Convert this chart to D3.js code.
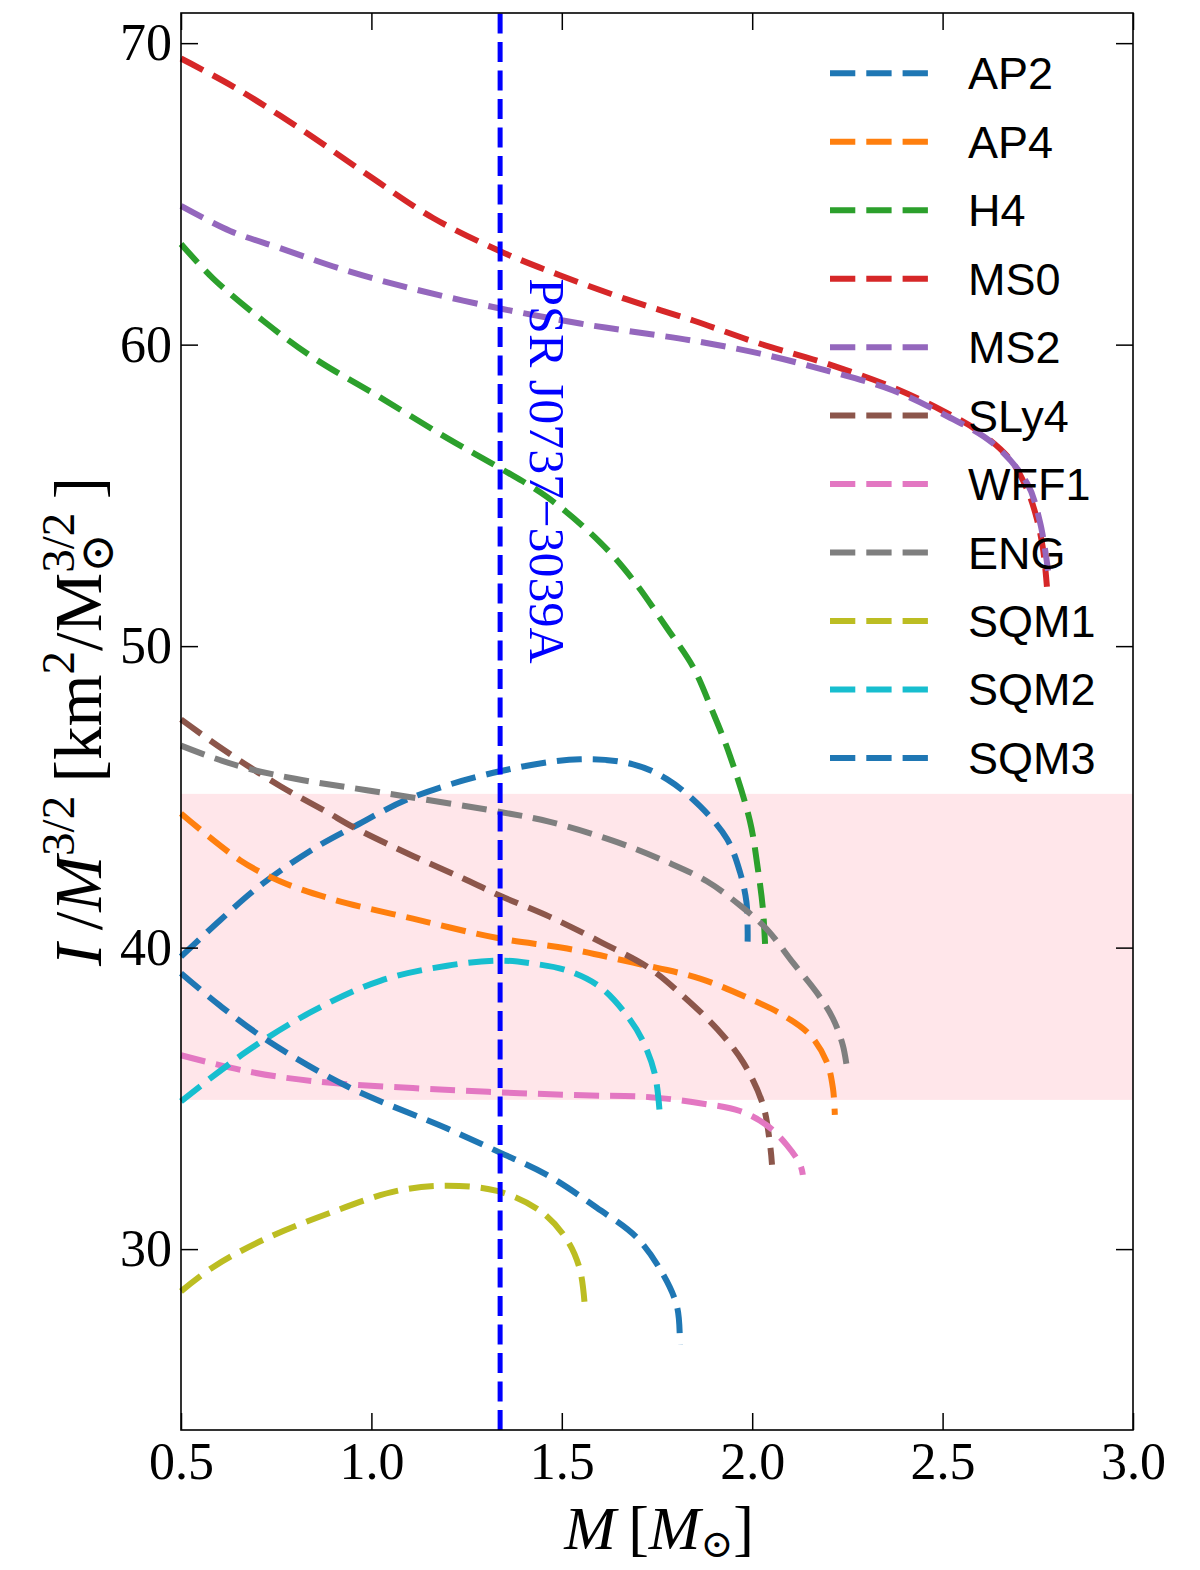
<!DOCTYPE html>
<html>
<head>
<meta charset="UTF-8">
<script src="https://d3js.org/d3.v7.min.js"></script>
<style>
  body { margin: 0; background: #fff; }
  svg { display: block; }
  .tick text { font-family: "Liberation Serif", "DejaVu Serif", serif; font-size: 52px; fill: #000; }
  .legend-label { font-family: "Liberation Sans", "DejaVu Sans", sans-serif; font-size: 45px; fill: #000; }
  .math { font-family: "Liberation Serif", "DejaVu Serif", serif; fill: #000; }
</style>
</head>
<body>
<div id="chart"></div>
<script>
// EOS names and colours (matplotlib tab10 order)
const eosNames  = ["AP2", "AP4", "H4", "MS0", "MS2", "SLy4", "WFF1", "ENG", "SQM1", "SQM2", "SQM3"];
const eosColors = ["#1f77b4", "#ff7f0e", "#2ca02c", "#d62728", "#9467bd", "#8c564b",
                   "#e377c2", "#7f7f7f", "#bcbd22", "#17becf", "#1f77b4"];

// [M (Msun), I/M^{3/2}]
const AP2  = [[0.5,39.7],[0.602,40.9],[0.707,42.05],[0.847,43.27],[0.952,44.0],[1.109,44.99],
              [1.338,45.85],[1.548,46.25],[1.687,46.08],[1.776,45.59],[1.863,44.69],[1.934,43.6],[1.968,42.5],
              [1.985,41.5],[1.988,40.6],[1.988,40.2]];
const AP4  = [[0.5,44.45],[0.655,42.9],[0.76,42.2],[0.899,41.6],[1.109,40.96],[1.338,40.3],[1.514,39.97],
              [1.687,39.5],[1.863,38.97],[1.994,38.3],[2.081,37.76],[2.152,37.1],[2.196,36.2],[2.212,35.34],[2.217,34.45]];
const H4   = [[0.5,63.34],[0.584,62.2],[0.715,60.8],[0.847,59.57],[1.023,58.25],[1.199,56.9],[1.338,55.9],
              [1.461,54.95],[1.6,53.45],[1.687,52.2],[1.776,50.6],[1.845,49.3],[1.897,47.8],[1.942,46.35],
              [1.994,44.2],[2.015,42.6],[2.028,41.3],[2.034,40.07]];
const MS0  = [[0.5,69.49],[0.637,68.56],[0.812,67.17],[0.988,65.65],[1.162,64.2],[1.338,63.1],[1.495,62.3],
              [1.671,61.5],[1.845,60.8],[2.021,60.03],[2.196,59.37],[2.37,58.58],[2.501,57.8],[2.59,57.16],
              [2.677,56.2],[2.722,55.2],[2.748,54.2],[2.764,53.2],[2.774,51.97]];
const MS2  = [[0.5,64.6],[0.629,63.77],[0.76,63.2],[0.936,62.45],[1.109,61.85],[1.338,61.2],[1.548,60.7],
              [1.671,60.46],[1.845,60.13],[2.021,59.7],[2.196,59.14],[2.37,58.48],[2.501,57.7],[2.632,56.73],
              [2.722,55.4],[2.756,54.1],[2.777,52.5]];
const SLy4 = [[0.5,47.57],[0.61,46.58],[0.76,45.36],[0.883,44.5],[0.952,44.0],[1.109,43.04],[1.24,42.3],
              [1.338,41.72],[1.469,41.02],[1.6,40.2],[1.732,39.3],[1.818,38.4],[1.908,37.3],[1.976,36.2],
              [2.028,34.8],[2.047,33.45],[2.052,32.8]];
const WFF1 = [[0.5,36.43],[0.673,35.9],[0.847,35.57],[1.109,35.34],[1.338,35.2],[1.556,35.1],[1.732,35.04],
              [1.863,34.84],[1.968,34.58],[2.039,34.1],[2.091,33.45],[2.126,32.8],[2.133,32.46]];
const ENG  = [[0.5,46.7],[0.584,46.3],[0.673,45.95],[0.8,45.6],[0.988,45.22],[1.338,44.5],[1.469,44.17],
              [1.645,43.5],[1.776,42.84],[1.881,42.2],[1.968,41.4],[2.039,40.6],[2.107,39.5],[2.17,38.5],
              [2.212,37.65],[2.238,36.76],[2.249,36.0]];
const SQM1 = [[0.5,28.6],[0.584,29.4],[0.715,30.3],[0.891,31.2],[1.067,31.93],[1.199,32.1],[1.33,31.93],
              [1.443,31.27],[1.514,30.3],[1.548,29.3],[1.561,28.0]];
const SQM2 = [[0.5,34.9],[0.673,36.56],[0.847,37.9],[1.023,38.9],[1.199,39.4],[1.338,39.57],[1.424,39.47],
              [1.514,39.24],[1.6,38.7],[1.671,37.75],[1.713,36.9],[1.745,35.77],[1.758,34.35]];
const SQM3 = [[0.5,39.15],[0.6,38.1],[0.726,36.93],[0.936,35.4],[1.199,34.0],[1.338,33.2],[1.461,32.46],
              [1.592,31.37],[1.697,30.38],[1.766,29.16],[1.803,28.07],[1.81,26.84]];
const eosCurves = [AP2, AP4, H4, MS0, MS2, SLy4, WFF1, ENG, SQM1, SQM2, SQM3];

const xTicks = [0.5, 1.0, 1.5, 2.0, 2.5, 3.0];
const yTicks = [30, 40, 50, 60, 70];

const psrMass  = 1.338;
const psrLabel = "PSR J0737\u22123039A";
const bandRange = [34.95, 45.1];

const width = 1200, height = 1570;
const plotL = 181, plotR = 1133, plotT = 13, plotB = 1430;

const svg = d3.select("#chart").append("svg")
  .attr("width", width).attr("height", height);

const x = d3.scaleLinear().domain([0.5, 3.0]).range([plotL, plotR]);
const y = d3.scaleLinear().domain([24, 71]).range([plotB, plotT]);

// shaded band
svg.append("rect")
  .attr("x", plotL).attr("width", plotR - plotL)
  .attr("y", y(bandRange[1])).attr("height", y(bandRange[0]) - y(bandRange[1]))
  .attr("fill", "#ffe6ea");

// curves
const line = d3.line()
  .x(d => x(d[0])).y(d => y(d[1]))
  .curve(d3.curveCatmullRom.alpha(0.5));

eosCurves.forEach((c, i) => {
  svg.append("path")
    .datum(c)
    .attr("d", line)
    .attr("fill", "none")
    .attr("stroke", eosColors[i])
    .attr("stroke-width", 6)
    .attr("stroke-dasharray", "25,11");
});

// pulsar mass line (drawn bottom -> top like axvline)
svg.append("line")
  .attr("x1", x(psrMass)).attr("x2", x(psrMass))
  .attr("y1", plotB).attr("y2", plotT)
  .attr("stroke", "#0000ff")
  .attr("stroke-width", 5)
  .attr("stroke-dasharray", "20,8.5");

svg.append("text")
  .attr("class", "math")
  .attr("transform", `translate(${x(psrMass) + 30},${y(62.2)}) rotate(90)`)
  .attr("font-size", 50)
  .style("fill", "#0000ff")
  .text(psrLabel);

// axes with inward ticks
const tickLen = 17;
const xAxis = svg.append("g")
  .attr("transform", `translate(0,${plotB})`)
  .call(d3.axisBottom(x).tickValues(xTicks).tickFormat(d3.format(".1f"))
    .tickSizeInner(-tickLen).tickSizeOuter(0).tickPadding(12));
const yAxis = svg.append("g")
  .attr("transform", `translate(${plotL},0)`)
  .call(d3.axisLeft(y).tickValues(yTicks).tickFormat(d3.format("d"))
    .tickSizeInner(-tickLen).tickSizeOuter(0).tickPadding(9));
const xTop = svg.append("g")
  .attr("transform", `translate(0,${plotT})`)
  .call(d3.axisTop(x).tickValues(xTicks).tickFormat("")
    .tickSizeInner(-tickLen).tickSizeOuter(0));
const yRight = svg.append("g")
  .attr("transform", `translate(${plotR},0)`)
  .call(d3.axisRight(y).tickValues(yTicks).tickFormat("")
    .tickSizeInner(-tickLen).tickSizeOuter(0));
[xAxis, yAxis, xTop, yRight].forEach(g => {
  g.attr("font-family", null).attr("font-size", null);
  g.select(".domain").remove();
  g.selectAll(".tick line").attr("stroke", "#000").attr("stroke-width", 1.5);
});

svg.append("rect")
  .attr("x", plotL).attr("y", plotT)
  .attr("width", plotR - plotL).attr("height", plotB - plotT)
  .attr("fill", "none").attr("stroke", "#000").attr("stroke-width", 1.6);

// legend (no frame)
const legY0 = 73.3, legStep = 68.46;
eosNames.forEach((name, i) => {
  const yy = legY0 + i * legStep;
  svg.append("line")
    .attr("x1", 830).attr("x2", 928).attr("y1", yy).attr("y2", yy)
    .attr("stroke", eosColors[i]).attr("stroke-width", 6)
    .attr("stroke-dasharray", "25.3,11");
  svg.append("text")
    .attr("class", "legend-label")
    .attr("x", 968).attr("y", yy + 16)
    .text(name);
});

// axis labels
const fs = 62, ss = 43;
const xl = svg.append("text").attr("class", "math")
  .attr("x", (plotL + plotR) / 2 + 2).attr("y", 1549)
  .attr("text-anchor", "middle").attr("font-size", fs);
xl.append("tspan").attr("font-style", "italic").text("M");
xl.append("tspan").text("\u2009[");
xl.append("tspan").attr("font-style", "italic").text("M");
xl.append("tspan").attr("font-size", ss - 4).attr("dy", 8).text("\u2299");
xl.append("tspan").attr("dy", -8).text("]");

const yfs = 67, yss = 47;
const yl = svg.append("text").attr("class", "math")
  .attr("transform", `translate(101,${(plotT + plotB) / 2}) rotate(-90)`)
  .attr("text-anchor", "middle").attr("font-size", yfs);
yl.append("tspan").attr("font-style", "italic").text("I");
yl.append("tspan").text("\u2009/");
yl.append("tspan").attr("font-style", "italic").text("M");
yl.append("tspan").attr("font-size", yss).attr("dy", -27).text("3/2");
yl.append("tspan").attr("dy", 27).text("\u2009[km");
yl.append("tspan").attr("font-size", yss).attr("dy", -27).text("2");
yl.append("tspan").attr("dy", 27).text("/M");
const sun = yl.append("tspan").attr("font-size", yss).attr("dy", 12).text("\u2299");
const sup = yl.append("tspan").attr("font-size", yss).attr("dy", -39).text("3/2");
yl.append("tspan").attr("dy", 27).text("\u2009]");
// stack the superscript over the subscript
sup.attr("dx", -sun.node().getComputedTextLength());
</script>
</body>
</html>
